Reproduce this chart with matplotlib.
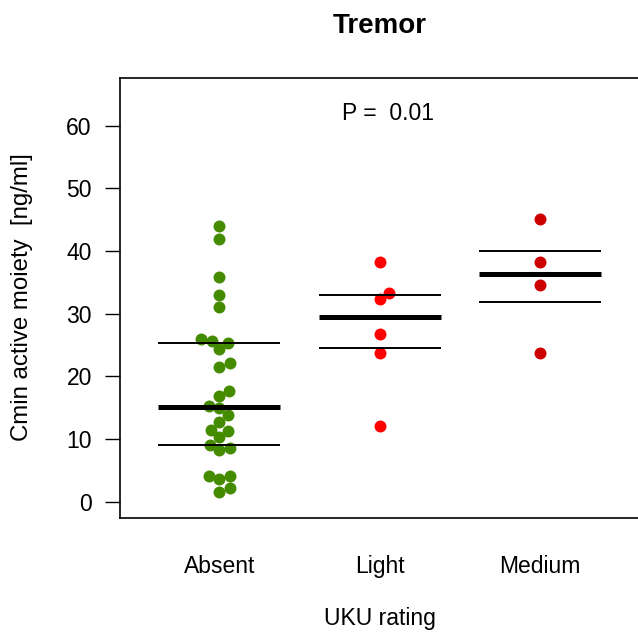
import numpy as np
import matplotlib
matplotlib.use("Agg")
import matplotlib.pyplot as plt

plt.rcParams["font.family"] = ["Liberation Sans", "DejaVu Sans"]

groups = ["Absent", "Light", "Medium"]
absent = [1.5, 2.13, 3.6, 4.16, 4.16, 8.32, 8.59, 9.12, 10.35, 11.36, 11.5, 12.7,
          13.76, 15.0, 15.25, 16.85, 17.65, 21.5, 22.1, 24.3, 25.3, 25.6, 25.9,
          31.1, 33.0, 35.8, 41.9, 44.05]
light = [12.05, 23.7, 26.7, 32.3, 33.3, 38.2]
medium = [23.8, 34.56, 38.2, 45.1]
colors = ["#458B00", "#FF0000", "#CD0000"]
p_text = "P =  0.01"

W, H = 638, 641
fig = plt.figure(figsize=(W / 100, H / 100), dpi=100)
ax = fig.add_axes([120 / W, (H - 518) / H, 519.5 / W, 440 / H])
ax.set_xlim(0.38, 3.62)
ax.set_ylim(-2.6, 67.6)

# pixels per data unit, used for the swarm layout
px_x = ax.bbox.width / 3.24
px_y = ax.bbox.height / 70.2
diam = 11.0


def swarm(vals):
    # simple beeswarm: place each point at the smallest offset that does not overlap
    order = np.argsort(vals, kind="stable")
    placed = []
    offs = np.zeros(len(vals))
    for i in order:
        y = vals[i] * px_y
        cands = [0.0]
        for (px, py) in placed:
            dy = abs(y - py)
            if dy < diam:
                dx = np.sqrt(diam ** 2 - dy ** 2)
                cands += [px + dx, px - dx]
        cands.sort(key=lambda c: (round(abs(c), 6), -c))
        for c in cands:
            if all((c - px) ** 2 + (y - py) ** 2 >= diam ** 2 - 1e-6 for px, py in placed):
                break
        placed.append((c, y))
        offs[i] = c / px_x
    return offs


for k, vals in enumerate([absent, light, medium]):
    vals = np.array(vals)
    xs = (k + 1) + swarm(vals)
    ax.plot(xs, vals, "o", ms=8.6, color=colors[k], mec="none", zorder=2)
    q1, med, q3 = np.percentile(vals, [25, 50, 75])
    ax.hlines([q1, q3], k + 1 - 0.38, k + 1 + 0.38, color="black", lw=1.4, zorder=3)
    ax.hlines(med, k + 1 - 0.38, k + 1 + 0.38, color="black", lw=3.6, zorder=3)

ax.text(2.05, 60.85, p_text, ha="center", va="baseline", fontsize=16.5)

ax.set_xticks([1, 2, 3])
ax.set_xticklabels(groups)
ax.set_yticks(range(0, 70, 10))
ax.tick_params(axis="x", length=0, pad=26.5, labelsize=16.5)
ax.tick_params(axis="y", length=10.5, width=1, pad=9.8, labelsize=16.5)
for s in ax.spines.values():
    s.set_linewidth(1.2)

fig.text(380 / W, (H - 33.3) / H, "Tremor", ha="center", va="baseline",
         fontsize=20, fontweight="bold")
fig.text(380 / W, (H - 625) / H, "UKU rating", ha="center", va="baseline", fontsize=16.5)
fig.text(22.5 / W, (H - 297.4) / H, "Cmin active moiety  [ng/ml]", ha="center",
         va="center", rotation=90, fontsize=17.3)

fig.savefig("out.png", dpi=100)
